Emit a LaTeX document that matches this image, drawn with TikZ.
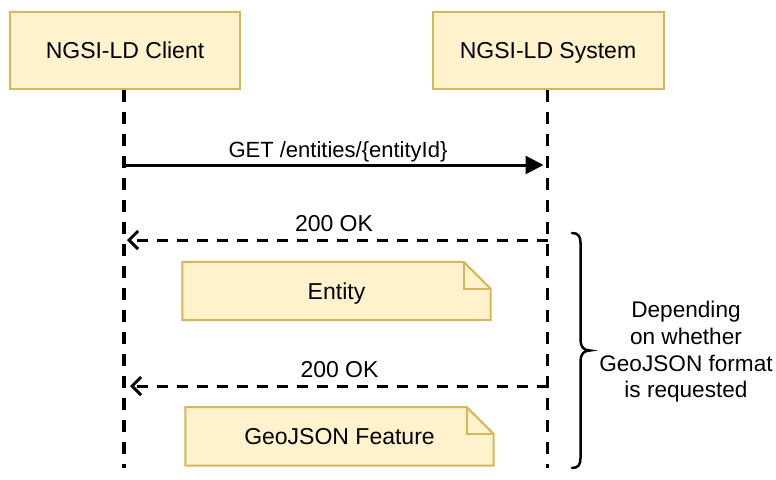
\documentclass[tikz,border=0pt]{standalone}
\usepackage{fontspec}
\setmainfont{Liberation Sans}
\usetikzlibrary{arrows.meta}
\definecolor{notefill}{HTML}{FFF2CC}
\definecolor{notedraw}{HTML}{D6B656}
\tikzset{
  actorbox/.style={draw=notedraw, fill=notefill, line width=2pt, minimum width=230pt, minimum height=77pt, inner sep=0pt, text height=16.5pt, text depth=0pt, font=\fontsize{23}{26.5}\selectfont},
  notebox/.style={inner sep=0pt, minimum width=308pt, minimum height=58pt, text height=16.5pt, text depth=0pt, font=\fontsize{23}{26.5}\selectfont},
  lifeline/.style={line width=3.3pt, dash pattern=on 12pt off 10pt},
  callarrow/.style={line width=3pt, -{Triangle[length=18pt,width=18pt]}},
  returnarrow/.style={line width=3pt, dash pattern=on 11pt off 9pt, -{Straight Barb[length=9pt,width=18pt,line width=3pt]}},
  msglabel/.style={anchor=base, inner sep=0pt, font=\fontsize{23}{26.5}\selectfont},
  sidetext/.style={align=center, inner sep=0pt, font=\fontsize{22.6}{26.6}\selectfont}
}
\begin{document}
\begin{tikzpicture}[x=1pt,y=-1pt]
\useasboundingbox (0,0) rectangle (776,479);
% lifeline ends
\coordinate (cend) at (124,468);
\coordinate (send) at (547.5,468);
% actor boxes
\node[actorbox] (client) at (125,50.5) {NGSI-LD Client};
\node[actorbox, minimum width=231pt] (system) at (548,50.5) {NGSI-LD System};
\draw[lifeline] (client.south -| cend) -- (cend);
\draw[lifeline] (system.south -| send) -- (send);
% message points
\coordinate (c1) at (124,165);
\coordinate (s1) at (547.5,165);
\coordinate (c2) at (124,240);
\coordinate (s2) at (547.5,240);
\coordinate (c3) at (124,386);
\coordinate (s3) at (547.5,386);
\draw[callarrow, shorten >=4pt] (c1) -- (s1);
\node[msglabel, font=\fontsize{22}{26}\selectfont] (getlbl) at (338,157) {GET /entities/\{entityId\}};
\draw[returnarrow, shorten >=3pt] (s2) -- (c2);
\node[msglabel] (ok1) at (334,231.5) {200 OK};
\draw[returnarrow, shorten >=6pt] (s3) -- (c3);
\node[msglabel] (ok2) at (339.5,377.3) {200 OK};
% notes
\node[notebox] (entity) at (336.5,291) {};
\fill[notefill] (entity.north west) -- ([xshift=-27pt]entity.north east) -- ([yshift=-27pt]entity.north east) -- (entity.south east) -- (entity.south west) -- cycle;
\draw[notedraw, line width=2pt, line join=miter] (entity.north west) -- ([xshift=-27pt]entity.north east) -- ([yshift=-27pt]entity.north east) -- (entity.south east) -- (entity.south west) -- cycle;
\draw[notedraw, line width=2pt] ([xshift=-27pt]entity.north east) |- ([yshift=-27pt]entity.north east);
\node[notebox] (entitytext) at (entity) {Entity};
\node[notebox] (geo) at (339.5,436.3) {};
\fill[notefill] (geo.north west) -- ([xshift=-27pt]geo.north east) -- ([yshift=-27pt]geo.north east) -- (geo.south east) -- (geo.south west) -- cycle;
\draw[notedraw, line width=2pt, line join=miter] (geo.north west) -- ([xshift=-27pt]geo.north east) -- ([yshift=-27pt]geo.north east) -- (geo.south east) -- (geo.south west) -- cycle;
\draw[notedraw, line width=2pt] ([xshift=-27pt]geo.north east) |- ([yshift=-27pt]geo.north east);
\node[notebox] (geotext) at (geo) {GeoJSON Feature};
% brace
\draw[line width=2.5pt, line cap=round] (572,233) .. controls (578,233) and (580.5,236) .. (580.5,243) -- (580.5,340) .. controls (580.5,347) and (584,350.5) .. (590,350.5) .. controls (584,350.5) and (580.5,354) .. (580.5,361) -- (580.5,458) .. controls (580.5,465) and (578,468) .. (572,468);
\node[sidetext] (note) at (686,352) {Depending\\on whether\\GeoJSON format\\is requested};
\end{tikzpicture}
\end{document}
